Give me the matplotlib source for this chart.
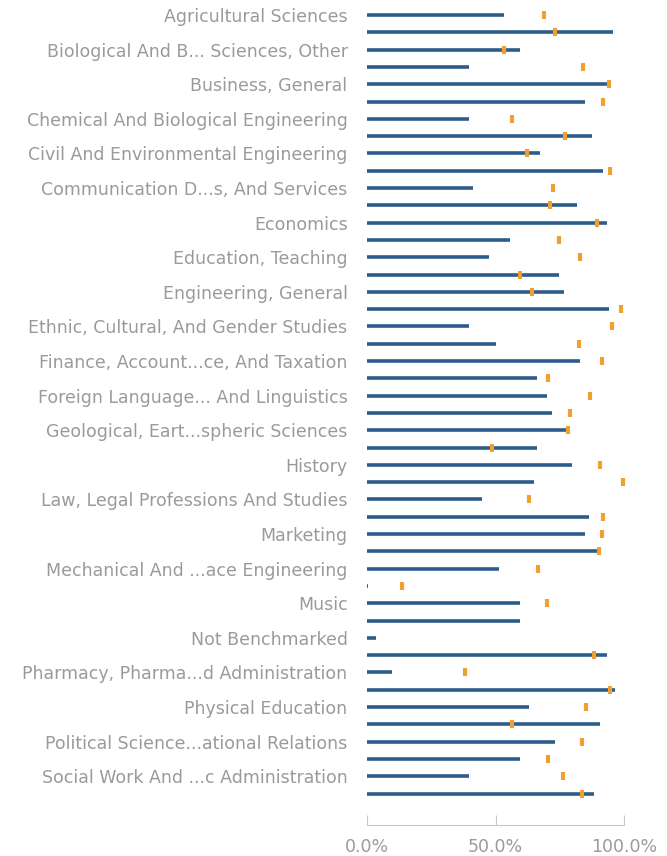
import numpy as np
import matplotlib
matplotlib.use("Agg")
import matplotlib.pyplot as plt
from matplotlib.ticker import FuncFormatter

# Only every other row carries a visible label in the original
labels = [
    "Agricultural Sciences",
    "Biological And B... Sciences, Other",
    "Business, General",
    "Chemical And Biological Engineering",
    "Civil And Environmental Engineering",
    "Communication D...s, And Services",
    "Economics",
    "Education, Teaching",
    "Engineering, General",
    "Ethnic, Cultural, And Gender Studies",
    "Finance, Account...ce, And Taxation",
    "Foreign Language... And Linguistics",
    "Geological, Eart...spheric Sciences",
    "History",
    "Law, Legal Professions And Studies",
    "Marketing",
    "Mechanical And ...ace Engineering",
    "Music",
    "Not Benchmarked",
    "Pharmacy, Pharma...d Administration",
    "Physical Education",
    "Political Science...ational Relations",
    "Social Work And ...c Administration",
]

# bar value (%) per row, top to bottom
bar_values = [
    53.2, 95.9, 59.4, 39.6, 93.3, 84.9, 39.6, 87.5, 67.2, 91.8,
    41.4, 81.7, 93.3, 55.8, 47.3, 74.6, 76.6, 94.0, 39.6, 50.1,
    83.0, 66.1, 70.0, 72.0, 78.4, 66.1, 79.6, 64.9, 44.8, 86.2,
    84.9, 89.6, 51.3, 0.5, 59.6, 59.6, 3.4, 93.3, 9.7, 96.6,
    62.9, 90.7, 73.1, 59.6, 39.6, 88.2,
]

# benchmark marker (%) per row, NaN where none is drawn
benchmark = [
    68.7, 73.1, 53.2, 84.1, 94.1, 91.8, 56.4, 77.2, 62.3, 94.6,
    72.5, 71.3, 89.4, 74.6, 83.0, 59.7, 64.3, 99.0, 95.3, 82.3,
    91.3, 70.6, 86.7, 79.0, 78.4, 48.5, 90.6, 99.7, 62.9, 91.8,
    91.3, 90.4, 66.5, 13.6, 69.9, np.nan, np.nan, 88.2, 38.3, 94.6,
    85.4, 56.4, 83.6, 70.6, 76.4, 83.6,
]

BAR_COLOR = "#2b5c8a"
MARK_COLOR = "#f0a030"
TEXT_COLOR = "#9a9a9a"
plt.rcParams["font.family"] = ["DejaVu Sans"]

W, H = 667, 856
fig = plt.figure(figsize=(W / 100, H / 100), dpi=100)
ax = fig.add_axes([367 / W, 1 - 825 / H, (624 - 367) / W, 825 / H])

rows = np.arange(len(bar_values))
ax.hlines(rows, 0, bar_values, color=BAR_COLOR, linewidth=2.6)
ax.plot(benchmark, rows, linestyle="none", marker="|", markersize=6,
        markeredgewidth=3, color=MARK_COLOR, clip_on=False, zorder=3)

ax.set_xlim(0, 100)
row_px = 17.3
ax.set_ylim((825 - 15) / row_px, -15 / row_px)

ax.set_yticks(rows[::2])
ax.set_yticklabels(labels)
ax.tick_params(axis="y", length=0, pad=14, labelsize=12.5, labelcolor=TEXT_COLOR)

ax.set_xticks([0, 50, 100])
ax.xaxis.set_major_formatter(FuncFormatter(lambda v, p: "{:.1f}%".format(v)))
ax.tick_params(axis="x", direction="in", length=7, width=0.8, color="#c8c8c8",
               pad=9.5, labelsize=12.5, labelcolor=TEXT_COLOR)

for side in ("top", "right", "left"):
    ax.spines[side].set_visible(False)
ax.spines["bottom"].set_color("#c8c8c8")
ax.spines["bottom"].set_linewidth(0.8)

fig.savefig("out.png", dpi=100)
